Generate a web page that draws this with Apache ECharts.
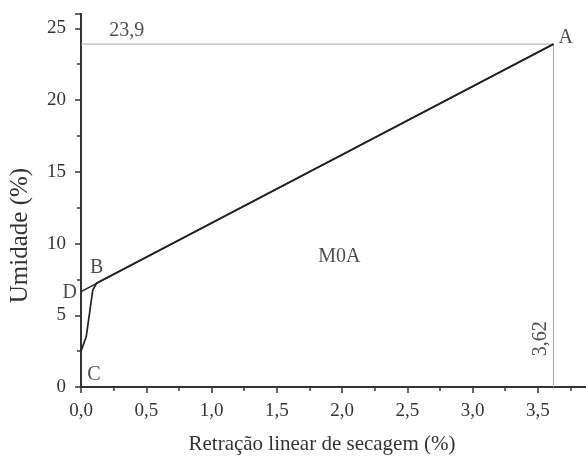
<!DOCTYPE html>
<html><head><meta charset="utf-8">
<script src="https://cdn.jsdelivr.net/npm/echarts@6/dist/echarts.min.js"></script>
<style>html,body{margin:0;padding:0;background:#fff}#c{width:586px;height:456px}</style>
</head><body><div id="c"></div>
<script>
const curveX = [0.0, 0.005, 0.04, 0.09, 0.12, 3.62];
const curveY = [2.5, 2.6, 3.5, 6.75, 7.25, 23.9];
const lineX = [0.0, 3.62];
const lineY = [6.65, 23.9];
const refX = 3.62, refY = 23.9;
const xTicks = ['0,0','0,5','1,0','1,5','2,0','2,5','3,0','3,5'];
const yTicks = ['0','5','10','15','20','25'];
const pointLabels = [
  {name:'A', x:3.62, y:23.9},
  {name:'B', x:0.12, y:7.25},
  {name:'C', x:0.0, y:0.0},
  {name:'D', x:0.0, y:6.65}
];

const F = 'Liberation Serif, Times New Roman, serif';
const chart = echarts.init(document.getElementById('c'));
const axisLine = {lineStyle:{color:'#333', width:1.8}};
const fmtX = v => { const i = Math.round(v/0.5); return (Math.abs(v - i*0.5) < 1e-6 && xTicks[i]) ? xTicks[i] : ''; };
const fmtY = v => { const i = Math.round(v/5); return (Math.abs(v - i*5) < 1e-6 && yTicks[i]) ? yTicks[i] : ''; };

const lbl = (name, pos, extra) => Object.assign({show:true, formatter:name, position:pos, color:'#222', fontFamily:F, fontSize:20}, extra||{});

chart.setOption({
  animation:false,
  grid:{left:81, top:14, right:-4, bottom:69, containLabel:false, outerBoundsMode:'none'},
  xAxis:[
    {type:'value', min:0, max:3.9, interval:0.5, position:'bottom',
     name:'Retração linear de secagem (%)', nameLocation:'middle', nameGap:47,
     nameTextStyle:{fontFamily:F, fontSize:21, color:'#333', padding:[0,27,0,0]},
     axisLine:axisLine, axisTick:{show:true, inside:false, length:6, lineStyle:{color:'#333', width:1.5}},
     minorTick:{show:true, splitNumber:2, length:4, lineStyle:{color:'#333', width:1.5}},
     axisLabel:{formatter:fmtX, fontFamily:F, fontSize:19, color:'#333', margin:15, showMaxLabel:false},
     splitLine:{show:false}},
    {type:'value', min:0, max:3.9, interval:0.5, position:'top',
     axisLine:axisLine, axisTick:{show:true, inside:true, length:6, lineStyle:{color:'#333', width:1.5}},
     minorTick:{show:true, splitNumber:2, length:4, lineStyle:{color:'#333', width:1.5}},
     axisLabel:{show:false}, splitLine:{show:false}}
  ],
  yAxis:[
    {type:'value', min:0, max:26, interval:5, position:'left',
     name:'Umidade (%)', nameLocation:'middle', nameGap:48,
     nameTextStyle:{fontFamily:F, fontSize:25, color:'#333', padding:[0,70,0,0]},
     axisLine:axisLine, axisTick:{show:true, inside:false, length:6, lineStyle:{color:'#333', width:1.5}},
     minorTick:{show:true, splitNumber:2, length:4, lineStyle:{color:'#333', width:1.5}},
     axisLabel:{formatter:fmtY, fontFamily:F, fontSize:19, color:'#333', margin:15},
     splitLine:{show:false}},
    {type:'value', min:0, max:26, interval:5, position:'right',
     axisLine:axisLine, axisTick:{show:true, inside:true, length:6, lineStyle:{color:'#333', width:1.5}},
     axisLabel:{show:false}, splitLine:{show:false}}
  ],
  series:[
    {type:'line', name:'ref-h', data:[[0, refY],[refX, refY]], symbol:'none', lineStyle:{color:'#aaa', width:1}},
    {type:'line', name:'ref-v', data:[[refX, 0],[refX, refY]], symbol:'none', lineStyle:{color:'#aaa', width:1}},
    {type:'line', name:'curve', data:curveX.map((x,i)=>[x, curveY[i]]), symbol:'none', lineStyle:{color:'#222', width:1.7}},
    {type:'line', name:'DA', data:lineX.map((x,i)=>[x, lineY[i]]), symbol:'none', lineStyle:{color:'#222', width:1.5}},
    {type:'scatter', symbolSize:0, silent:true, data:[
      {value:[pointLabels[0].x, pointLabels[0].y], label:lbl('A','right',{offset:[0,-6]})},
      {value:[pointLabels[1].x, pointLabels[1].y], label:lbl('B','top',{offset:[0,0]})},
      {value:[pointLabels[2].x, pointLabels[2].y], label:lbl('C','top',{offset:[13,3]})},
      {value:[pointLabels[3].x, pointLabels[3].y], label:lbl('D','left',{offset:[1,1]})},
      {value:[0.35, refY], label:lbl('23,9','top',{offset:[0,2]})},
      {value:[refX, 4.3], label:lbl('3,62','left',{rotate:90, offset:[4,-8]})},
      {value:[1.98, 9.05], label:lbl('M0A','inside')}
    ]}
  ]
});
</script></body></html>
